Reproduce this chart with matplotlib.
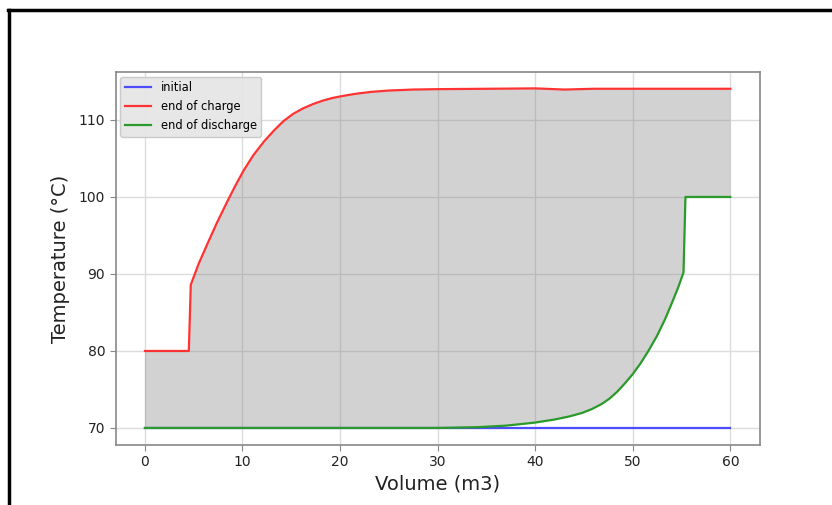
import numpy as np
import matplotlib
matplotlib.use("Agg")
import matplotlib.pyplot as plt
from matplotlib.lines import Line2D

# ---------------------------------------------------------
# Data
# ---------------------------------------------------------
initial_x = [0, 60]
initial_t = [70, 70]

charge_x = [0, 4.5, 4.7, 5.5, 6.4, 7.4, 8.4, 9.2, 10.1, 11.1, 12.2, 13.2,
            14.2, 15.2, 16.2, 17.2, 18.2, 19.2, 20.2, 21.6, 23.2, 25.0,
            27.5, 30.0, 35.0, 40.0, 43.0, 46.0, 50.0, 60.0]
charge_t = [80, 80, 88.6, 91.3, 93.9, 96.7, 99.3, 101.3, 103.4, 105.4,
            107.2, 108.6, 109.85, 110.8, 111.5, 112.05, 112.5, 112.85,
            113.1, 113.4, 113.65, 113.82, 113.95, 114.0, 114.05, 114.1,
            113.95, 114.05, 114.05, 114.05]

discharge_x = [0, 30.0, 34.0, 37.0, 40.0, 42.0, 43.5, 44.8, 45.8, 46.8,
               47.6, 48.4, 49.2, 50.0, 50.8, 51.6, 52.5, 53.3, 54.0, 54.7,
               55.2, 55.4, 60.0]
discharge_t = [70, 70, 70.1, 70.3, 70.7, 71.1, 71.5, 71.95, 72.45, 73.1,
               73.8, 74.7, 75.8, 77.0, 78.4, 80.0, 82.0, 84.1, 86.2, 88.4,
               90.2, 100, 100]

# ---------------------------------------------------------
# Figure
# ---------------------------------------------------------
fig = plt.figure(figsize=(8.32, 5.05), dpi=100)
ax = fig.add_axes([0.139, 0.119, 0.774, 0.738])

# shaded band between charge and discharge profiles
band_x = np.concatenate([charge_x, discharge_x[::-1]])
band_t = np.concatenate([charge_t, discharge_t[::-1]])
ax.fill(band_x, band_t, color="gray", alpha=0.35, linewidth=0, zorder=1)

ax.plot(initial_x, initial_t, color="#4d4dff", lw=1.6, label="initial", zorder=3)
ax.plot(charge_x, charge_t, color="#ff3333", lw=1.6, label="end of charge", zorder=3)
ax.plot(discharge_x, discharge_t, color="#2a9a2a", lw=1.6, label="end of discharge", zorder=4)

ax.set_xticks([0, 10, 20, 30, 40, 50, 60])
ax.set_yticks([70, 80, 90, 100, 110])
ax.set_xlim(-3, 63)
ax.set_ylim(67.8, 116.2)

ax.grid(True, color="#dcdcdc", lw=1.0)
ax.set_axisbelow(True)
for s in ax.spines.values():
    s.set_color("#888888")
    s.set_linewidth(1.2)
ax.tick_params(colors="#888888", labelcolor="#222222", labelsize=10, length=4)

ax.set_xlabel("Volume (m3)", fontsize=14, color="#222222", labelpad=4)
ax.set_ylabel("Temperature (°C)", fontsize=14, color="#222222", labelpad=6)

leg = ax.legend(loc="upper left", fontsize=8.3, fancybox=True,
                borderaxespad=0.4, handlelength=2.3)
leg.get_frame().set_facecolor("#e6e6e6")
leg.get_frame().set_edgecolor("#c8c8c8")
leg.get_frame().set_alpha(0.95)

# black screenshot frame (top and left edges)
fig.add_artist(Line2D([8 / 832, 1], [1 - 10 / 505, 1 - 10 / 505],
                      transform=fig.transFigure, color="black", lw=2.5))
fig.add_artist(Line2D([9 / 832, 9 / 832], [0, 1 - 10 / 505],
                      transform=fig.transFigure, color="black", lw=2.5))

fig.savefig("out.png", dpi=100)
